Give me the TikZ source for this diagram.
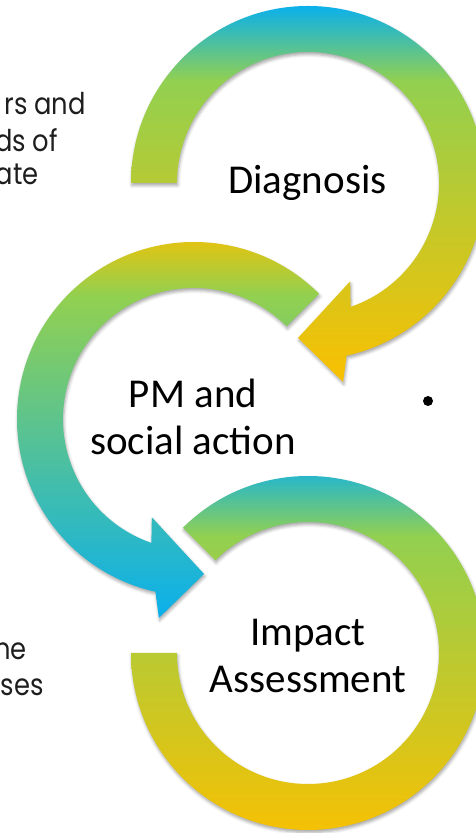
\documentclass[tikz,border=0pt]{standalone}
\usepackage{fontspec}
\setmainfont{Carlito}
\newfontfamily\gothic[FakeStretch=0.86]{Poppins}
\usetikzlibrary{shadows.blur}
\definecolor{cblue}{RGB}{10,176,236}
\definecolor{cgreen}{RGB}{146,208,80}
\definecolor{cgold}{RGB}{250,192,0}
\definecolor{ctext}{RGB}{30,30,30}
\pgfdeclareverticalshading{ringdown}{100bp}{color(0bp)=(cgold); color(25bp)=(cgold); color(65bp)=(cgreen); color(75bp)=(cblue); color(100bp)=(cblue)}
\pgfdeclareverticalshading{ringup}{100bp}{color(0bp)=(cblue); color(25bp)=(cblue); color(66bp)=(cgreen); color(75bp)=(cgold); color(100bp)=(cgold)}
\begin{document}
\begin{tikzpicture}[x=1pt,y=1pt,
  ringshadow/.style={blur shadow={shadow xshift=0.8pt, shadow yshift=-2.5pt, shadow blur radius=3pt, shadow opacity=35}},
  steplabel/.style={font=\fontsize{41}{47}\selectfont, text=black, align=center, inner sep=0pt},
  sidetext/.style={font=\gothic\fontsize{30}{34}\selectfont, text=ctext, inner sep=0pt, anchor=base east}]
\useasboundingbox (0,0) rectangle (476,833);
\clip (0,0) rectangle (476,833);
\coordinate (c1) at (308,650);
\coordinate (c2) at (194,414);
\coordinate (c3) at (308,180);
% ring 1
\shade[shading=ringdown, ringshadow]
 ([shift={(180:177)}]c1) arc[start angle=180, end angle=-77.4, radius=177]
 -- ([shift={(-80:202)}]c1)
 -- ([shift={(-93.7:155.3)}]c1)
 -- ([shift={(-66.8:107)}]c1)
 -- ([shift={(-71:131)}]c1)
 arc[start angle=-71, end angle=180, radius=131]
 -- cycle;
% ring 2
\shade[shading=ringup, ringshadow]
 ([shift={(45:177)}]c2) arc[start angle=45, end angle=257.4, radius=177]
 -- ([shift={(260:202)}]c2)
 -- ([shift={(273.7:155.3)}]c2)
 -- ([shift={(246.8:107)}]c2)
 -- ([shift={(251:131)}]c2)
 arc[start angle=251, end angle=45, radius=131]
 -- cycle;
% ring 3
\shade[shading=ringdown, ringshadow]
 ([shift={(135:177)}]c3) arc[start angle=135, end angle=-180, radius=177]
 -- ([shift={(180:131)}]c3)
 arc[start angle=-180, end angle=135, radius=131]
 -- cycle;
% labels
\node[steplabel, anchor=base] (diag) at (307.5,639) {Diagnosis};
\node[steplabel, anchor=base] (pm) at (193,378) {PM and\\social action};
\node[steplabel, anchor=base] (impact) at (308,140) {Impact\\Assessment};
% side texts
\node[sidetext] (t1) at (86,718) {rs and};
\node[sidetext] (t2) at (58,681.5) {ds of};
\node[sidetext] (t3) at (39,648) {ate};
\node[sidetext] (t4) at (27,173) {ne};
\node[sidetext] (t5) at (44,137) {ses};
\node[circle, fill=black, minimum size=10pt, inner sep=0pt] (bullet) at (428,432) {};
\end{tikzpicture}
\end{document}
